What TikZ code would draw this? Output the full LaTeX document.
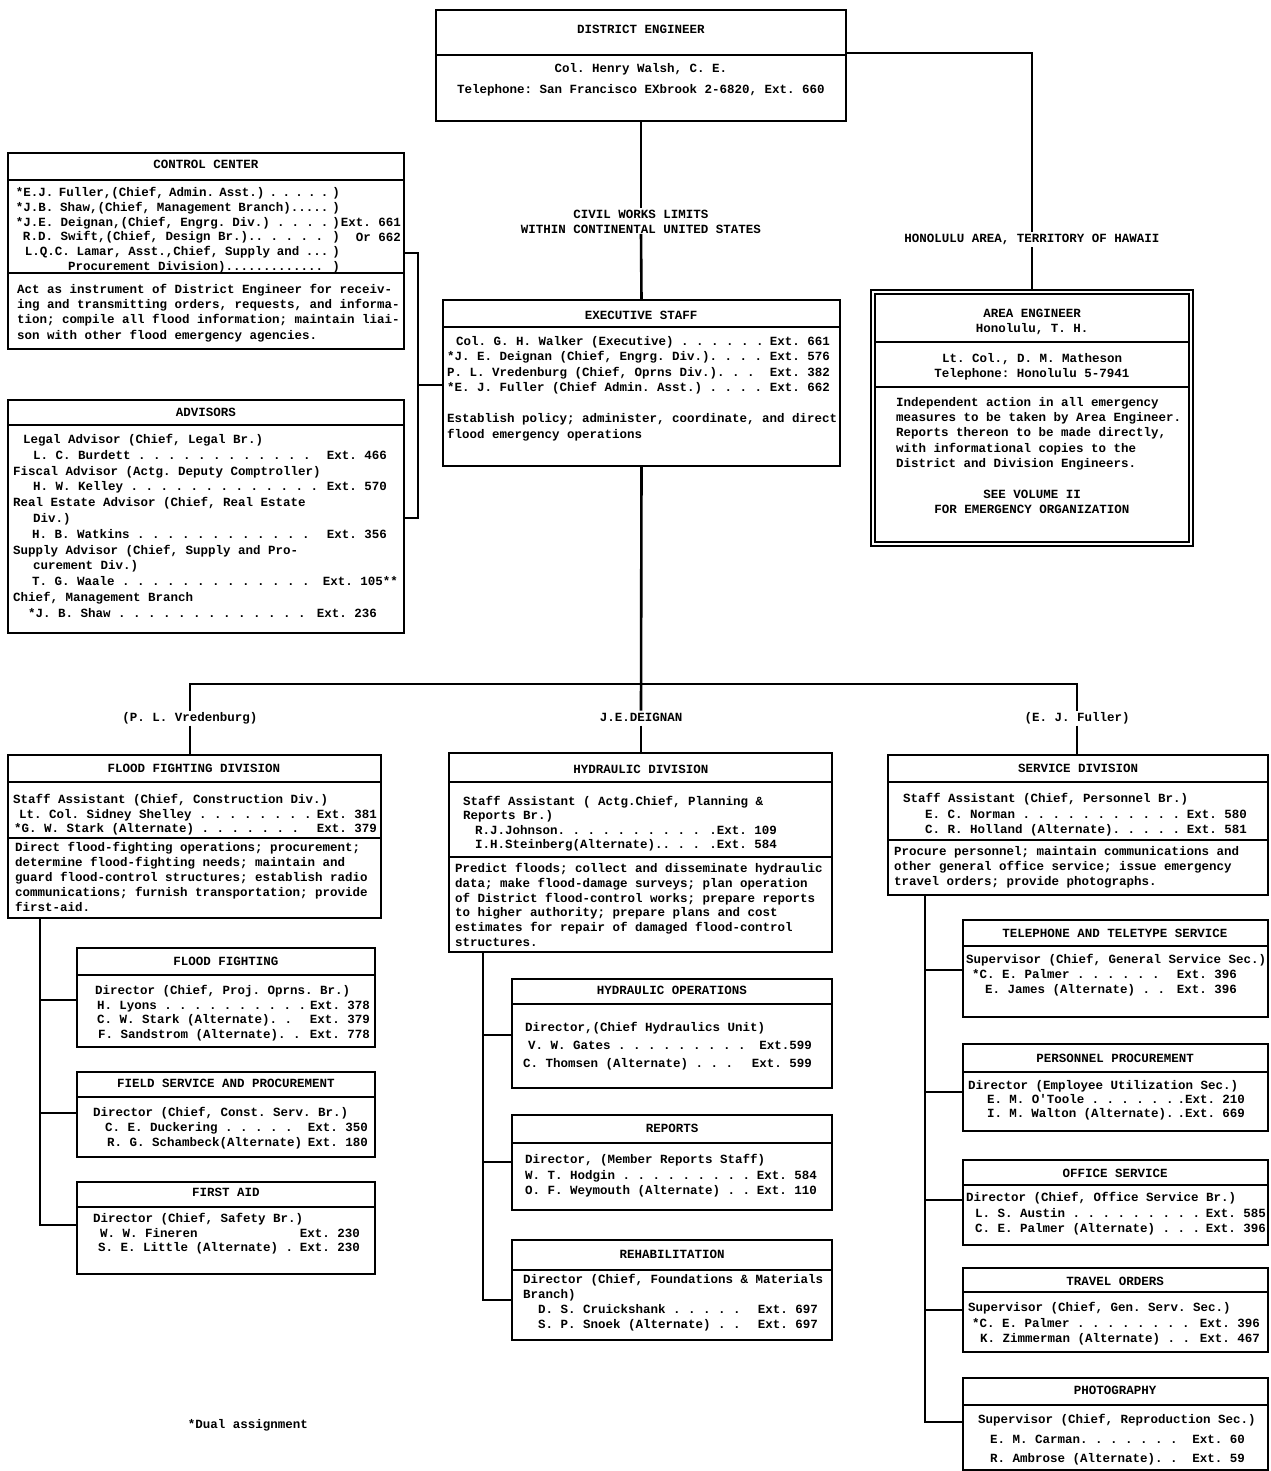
\documentclass[tikz,border=0pt]{standalone}
\usepackage{fontspec}
\newfontfamily\tw{Liberation Mono}
\newcommand\tf[1][15]{\fontsize{12.5pt}{#1pt}\selectfont\tw\bfseries\frenchspacing}
\newcommand\fst{\rule[-4.5pt]{0pt}{15pt}}
\newcommand\exln[4]{\hbox to #2pt{\hspace*{#1pt}#3\hskip 4pt plus 1fill #4}}
\newcommand\ind[1]{\hspace*{#1pt}}
\newcommand\dvd[2]{\draw[dv] (#1.west |- 0,#2) -- (#1.east |- 0,#2);}
\begin{document}
\begin{tikzpicture}[x=1pt,y=-1pt,
  bx/.style={draw, line width=1.5pt, inner sep=0pt, outer sep=0pt, anchor=north west},
  dv/.style={line width=1.3pt},
  cn/.style={line width=2.6pt},
  tl/.style={inner sep=0pt, outer sep=0pt, anchor=north west, align=left, font=\tf},
  tc/.style={inner sep=0pt, outer sep=0pt, anchor=center, align=center, font=\tf}]
\useasboundingbox (0,0) rectangle (1270,1471);

% ---------------- boxes ----------------
\node[bx, minimum width=410pt, minimum height=111pt] (de)  at (436,10) {};
\node[bx, minimum width=396pt, minimum height=196pt] (cc)  at (8,153) {};
\node[bx, minimum width=396pt, minimum height=233pt] (adv) at (8,400) {};
\node[bx, minimum width=397pt, minimum height=166pt] (ex)  at (443,300) {};
\node[bx, minimum width=322pt, minimum height=256pt] (ae)  at (871,290) {};
\node[bx, minimum width=373pt, minimum height=163pt] (ffd) at (8,755) {};
\node[bx, minimum width=298pt, minimum height=99pt]  (ff)  at (77,948) {};
\node[bx, minimum width=298pt, minimum height=85pt]  (fs)  at (77,1072) {};
\node[bx, minimum width=298pt, minimum height=92pt]  (fa)  at (77,1182) {};
\node[bx, minimum width=383pt, minimum height=199pt] (hyd) at (449,753) {};
\node[bx, minimum width=320pt, minimum height=109pt] (ho)  at (512,979) {};
\node[bx, minimum width=320pt, minimum height=95pt]  (rp)  at (512,1115) {};
\node[bx, minimum width=320pt, minimum height=100pt] (rh)  at (512,1240) {};
\node[bx, minimum width=380pt, minimum height=140pt] (svc) at (888,755) {};
\node[bx, minimum width=305pt, minimum height=97pt]  (tt)  at (963,920) {};
\node[bx, minimum width=305pt, minimum height=87pt]  (pp)  at (963,1044) {};
\node[bx, minimum width=305pt, minimum height=85pt]  (os)  at (963,1160) {};
\node[bx, minimum width=305pt, minimum height=84pt]  (to)  at (963,1268) {};
\node[bx, minimum width=305pt, minimum height=92pt]  (ph)  at (963,1378) {};

% dividers
\dvd{de}{55}
\dvd{cc}{180}\dvd{cc}{273}
\dvd{adv}{425}
\dvd{ex}{327}
\draw[line width=1.2pt] ([shift={(4,4)}]ae.north west) rectangle ([shift={(-4,-4)}]ae.south east);
\draw[dv] (875,342) -- (1189,342);
\draw[dv] (875,387) -- (1189,387);
\dvd{ffd}{782}\dvd{ffd}{838}
\dvd{ff}{975}\dvd{fs}{1097}\dvd{fa}{1207}
\dvd{hyd}{782}\dvd{hyd}{857}
\dvd{ho}{1004}\dvd{rp}{1143}\dvd{rh}{1270}
\dvd{svc}{782}\dvd{svc}{840}
\dvd{tt}{946}\dvd{pp}{1072}\dvd{os}{1185}\dvd{to}{1292}\dvd{ph}{1405}

% ---------------- texts ----------------
\node[tc] (de-t) at (641,31) {\fst DISTRICT ENGINEER};
\node[tc] (de-n) at (641,70) {\fst Col. Henry Walsh, C. E.};
\node[tc] (de-p) at (641,91) {\fst Telephone: San Francisco EXbrook 2-6820, Ext. 660};

\node[tc] (cwl) at (641,221) {\fst CIVIL WORKS LIMITS\\WITHIN CONTINENTAL UNITED STATES};
\node[tc] (hon) at (1032,240) {\fst HONOLULU AREA, TERRITORY OF HAWAII};

% control center
\node[tc] (cc-t) at (206,166) {\fst CONTROL CENTER};
\node[tl, font={\tf[14.8]}] (cc-b) at (16,186) {\fst\exln{0}{324}{*E.J. Fuller,(Chief, Admin. Asst.) . . . . .}{)}\\
\exln{0}{324}{*J.B. Shaw,(Chief, Management Branch).....}{)}\\
\exln{0}{324}{*J.E. Deignan,(Chief, Engrg. Div.) . . . .}{)}\\
\exln{7}{324}{R.D. Swift,(Chief, Design Br.).. . . . .}{)}\\
\exln{9}{324}{L.Q.C. Lamar, Asst.,Chief, Supply and ...}{)}\\
\exln{52}{324}{Procurement Division).............}{)}};
\node[tl, anchor=north east, align=right] (cc-x) at (401,216) {\fst Ext. 661\\Or 662};
\node[tl, font={\tf[15.2]}] (cc-d) at (17,283) {\fst Act as instrument of District Engineer for receiv-\\ing and transmitting orders, requests, and informa-\\tion; compile all flood information; maintain liai-\\son with other flood emergency agencies.};

% advisors
\node[tc] (adv-t) at (206,413) {\fst ADVISORS};
\node[tl, font={\tf[15.8]}] (adv-b) at (13,433) {\fst\ind{10}Legal Advisor (Chief, Legal Br.)\\
\exln{20}{374}{L. C. Burdett  . . . . . . . . . . . .}{Ext. 466}\\
Fiscal Advisor (Actg. Deputy Comptroller)\\
\exln{20}{374}{H. W. Kelley . . . . . . . . . . . . .}{Ext. 570}\\
Real Estate Advisor (Chief, Real Estate\\
\ind{20}Div.)\\
\exln{19}{374}{H. B. Watkins . . . . . . . . . . . .}{Ext. 356}\\
Supply Advisor (Chief, Supply and Pro-\\
\ind{20}curement Div.)\\
\exln{19}{385}{T. G. Waale . . . . . . . . . . . . .}{Ext. 105**}\\
Chief, Management Branch\\
\exln{15}{364}{*J. B. Shaw . . . . . . . . . . . . .}{Ext. 236}};

% executive staff
\node[tc] (ex-t) at (641,316) {\fst EXECUTIVE STAFF};
\node[tl, font={\tf[15.3]}] (ex-b) at (447,335) {\fst\exln{9}{383}{Col. G. H. Walker (Executive) . . . . . .}{Ext. 661}\\
\exln{0}{383}{*J. E. Deignan (Chief, Engrg. Div.). . . .}{Ext. 576}\\
\exln{0}{383}{P. L. Vredenburg (Chief, Oprns Div.). . .}{Ext. 382}\\
\exln{0}{383}{*E. J. Fuller (Chief Admin. Asst.) . . . .}{Ext. 662}};
\node[tl, font={\tf[15.5]}] (ex-d) at (447,412) {\fst Establish policy; administer, coordinate, and direct\\flood emergency operations};

% area engineer
\node[tc] (ae-t) at (1032,321) {\fst AREA ENGINEER\\Honolulu, T. H.};
\node[tc] (ae-n) at (1032,366) {\fst Lt. Col., D. M. Matheson\\Telephone: Honolulu 5-7941};
\node[tl, font={\tf[15.2]}] (ae-d) at (896,396) {\fst Independent action in all emergency\\measures to be taken by Area Engineer.\\Reports thereon to be made directly,\\with informational copies to the\\District and Division Engineers.};
\node[tc] (ae-s) at (1032,501) {\fst SEE VOLUME II\\FOR EMERGENCY ORGANIZATION};

% division labels
\node[tc] (lv) at (190,718) {\fst (P. L. Vredenburg)};
\node[tc] (ld) at (641,718) {\fst J.E.DEIGNAN};
\node[tc] (lf) at (1077,718) {\fst (E. J. Fuller)};

% flood fighting division
\node[tc] (ffd-t) at (194,769) {\fst FLOOD FIGHTING DIVISION};
\node[tl, font={\tf[14.6]}] (ffd-b) at (13,793) {\fst Staff Assistant (Chief, Construction Div.)\\
\exln{6}{364}{Lt. Col. Sidney Shelley . . . . . . . .}{Ext. 381}\\
\exln{1}{364}{*G. W. Stark (Alternate) . . . . . . .}{Ext. 379}};
\node[tl, font={\tf[15]}] (ffd-d) at (15,841) {\fst Direct flood-fighting operations; procurement;\\determine flood-fighting needs; maintain and\\guard flood-control structures; establish radio\\communications; furnish transportation; provide\\first-aid.};

\node[tc] (ff-t) at (226,962) {\fst FLOOD FIGHTING};
\node[tl, font={\tf[14.7]}] (ff-b) at (95,984) {\fst Director (Chief, Proj. Oprns. Br.)\\
\exln{2}{275}{H. Lyons . . . . . . . . . .}{Ext. 378}\\
\exln{2}{275}{C. W. Stark (Alternate).  .}{Ext. 379}\\
\exln{3}{275}{F. Sandstrom (Alternate). .}{Ext. 778}};

\node[tc] (fs-t) at (226,1084) {\fst FIELD SERVICE AND PROCUREMENT};
\node[tl, font={\tf[15]}] (fs-b) at (93,1106) {\fst Director (Chief, Const. Serv. Br.)\\
\exln{12}{275}{C. E. Duckering . . . . .}{Ext. 350}\\
\exln{14}{275}{R. G. Schambeck(Alternate)}{Ext. 180}};

\node[tc] (fa-t) at (226,1193) {\fst FIRST AID};
\node[tl, font={\tf[14.6]}] (fa-b) at (93,1212) {\fst Director (Chief, Safety Br.)\\
\exln{7}{267}{W. W. Fineren}{Ext. 230}\\
\exln{5}{267}{S. E. Little (Alternate) .}{Ext. 230}};

% hydraulic division
\node[tc] (hyd-t) at (641,770) {\fst HYDRAULIC DIVISION};
\node[tl, font={\tf[14.4]}] (hyd-b) at (463,795) {\fst Staff Assistant ( Actg.Chief, Planning \&\\Reports Br.)\\
\exln{12}{314}{R.J.Johnson. . . . . . . . . .}{.Ext. 109}\\
\exln{12}{314}{I.H.Steinberg(Alternate).. . .}{.Ext. 584}};
\node[tl, font={\tf[14.8]}] (hyd-d) at (455,862) {\fst Predict floods; collect and disseminate hydraulic\\data; make flood-damage surveys; plan operation\\of District flood-control works; prepare reports\\to higher authority; prepare plans and cost\\estimates for repair of damaged flood-control\\structures.};

\node[tc] (ho-t) at (672,991) {\fst HYDRAULIC OPERATIONS};
\node[tl, font={\tf[18]}] (ho-b) at (523,1021) {\fst\ind{2}Director,(Chief Hydraulics Unit)\\
\exln{5}{289}{V. W. Gates . . . . . . . . .}{Ext.599}\\
\exln{0}{289}{C. Thomsen (Alternate) . . .}{Ext. 599}};

\node[tc] (rp-t) at (672,1129) {\fst REPORTS};
\node[tl, font={\tf[15.5]}] (rp-b) at (525,1153) {\fst Director, (Member Reports Staff)\\
\exln{0}{292}{W. T. Hodgin . . . . . . . . .}{Ext. 584}\\
\exln{0}{292}{O. F. Weymouth (Alternate) . .}{Ext. 110}};

\node[tc] (rh-t) at (672,1255) {\fst REHABILITATION};
\node[tl, font={\tf[15]}] (rh-b) at (523,1273) {\fst Director (Chief, Foundations \& Materials\\Branch)\\
\exln{15}{295}{D. S. Cruickshank . . . . .}{Ext. 697}\\
\exln{15}{295}{S. P. Snoek (Alternate) . .}{Ext. 697}};

% service division
\node[tc] (svc-t) at (1078,769) {\fst SERVICE DIVISION};
\node[tl, font={\tf[15.5]}] (svc-b) at (903,792) {\fst Staff Assistant (Chief, Personnel Br.)\\
\exln{22}{344}{E. C. Norman . . . . . . . . . . .}{Ext. 580}\\
\exln{22}{344}{C. R. Holland (Alternate). . . . .}{Ext. 581}};
\node[tl, font={\tf[15]}] (svc-d) at (894,845) {\fst Procure personnel; maintain communications and\\other general office service; issue emergency\\travel orders; provide photographs.};

\node[tc] (tt-t) at (1115,934) {\fst TELEPHONE AND TELETYPE SERVICE};
\node[tl, font={\tf[15]}] (tt-b) at (966,953) {\fst Supervisor (Chief, General Service Sec.)\\
\exln{6}{271}{*C. E. Palmer . . . . . .}{Ext. 396}\\
\exln{19}{271}{E. James (Alternate) . .}{Ext. 396}};

\node[tc] (pp-t) at (1115,1059) {\fst PERSONNEL PROCUREMENT};
\node[tl, font={\tf[14]}] (pp-b) at (968,1079) {\fst Director (Employee Utilization Sec.)\\
\exln{19}{277}{E. M. O'Toole . . . . . .}{.Ext. 210}\\
\exln{19}{277}{I. M. Walton (Alternate).}{.Ext. 669}};

\node[tc] (os-t) at (1115,1174) {\fst OFFICE SERVICE};
\node[tl, font={\tf[15.5]}] (os-b) at (966,1191) {\fst Director (Chief, Office Service Br.)\\
\exln{9}{300}{L. S. Austin . . . . . . . . .}{Ext. 585}\\
\exln{9}{300}{C. E. Palmer (Alternate) . . .}{Ext. 396}};

\node[tc] (to-t) at (1115,1282) {\fst TRAVEL ORDERS};
\node[tl, font={\tf[15.5]}] (to-b) at (968,1301) {\fst Supervisor (Chief, Gen. Serv. Sec.)\\
\exln{4}{292}{*C. E. Palmer . . . . . . . .}{Ext. 396}\\
\exln{12}{292}{K. Zimmerman (Alternate) . .}{Ext. 467}};

\node[tc] (ph-t) at (1115,1391) {\fst PHOTOGRAPHY};
\node[tl, font={\tf[19.5]}] (ph-b) at (978,1413) {\fst Supervisor (Chief, Reproduction Sec.)\\
\exln{12}{267}{E. M. Carman. . . . . . .}{Ext. 60}\\
\exln{12}{267}{R. Ambrose (Alternate). .}{Ext. 59}};

\node[tc] (fn) at (248,1425) {\fst *Dual assignment};

% ---------------- connectors ----------------
\draw[cn] (de.south) -- (cwl.north);
\draw[cn] (cwl.south) -- (ex.north);
\draw[cn] (de.east |- 0,53) -| (hon.north);
\draw[cn] (hon.south) -- (ae.north);
\coordinate (jb) at (418,385);
\draw[cn] (cc.east |- 0,253) -| (jb) |- (adv.east |- 0,518);
\draw[cn] (jb) -- (ex.west |- jb);

\draw[cn] (ex.south) -- (ld.north);
\draw[cn] (lv.north) -- (lv.north |- 0,684) -- (lf.north |- 0,684) -- (lf.north);
\draw[cn] (lv.south) -- (lv.south |- ffd.north);
\draw[cn] (ld.south) -- (ld.south |- hyd.north);
\draw[cn] (lf.south) -- (lf.south |- svc.north);

\coordinate (ft) at (40,1225);
\draw[cn] (ffd.south -| ft) -- (ft) -- (fa.west |- ft);
\draw[cn] (ft |- 0,1000) -- (ff.west |- 0,1000);
\draw[cn] (ft |- 0,1113) -- (fs.west |- 0,1113);

\coordinate (ht) at (483,1300);
\draw[cn] (hyd.south -| ht) -- (ht) -- (rh.west |- ht);
\draw[cn] (ht |- 0,1035) -- (ho.west |- 0,1035);
\draw[cn] (ht |- 0,1162) -- (rp.west |- 0,1162);

\coordinate (st) at (925,1422);
\draw[cn] (svc.south -| st) -- (st) -- (ph.west |- st);
\draw[cn] (st |- 0,970) -- (tt.west |- 0,970);
\draw[cn] (st |- 0,1092) -- (pp.west |- 0,1092);
\draw[cn] (st |- 0,1200) -- (os.west |- 0,1200);
\draw[cn] (st |- 0,1310) -- (to.west |- 0,1310);
\end{tikzpicture}
\end{document}
